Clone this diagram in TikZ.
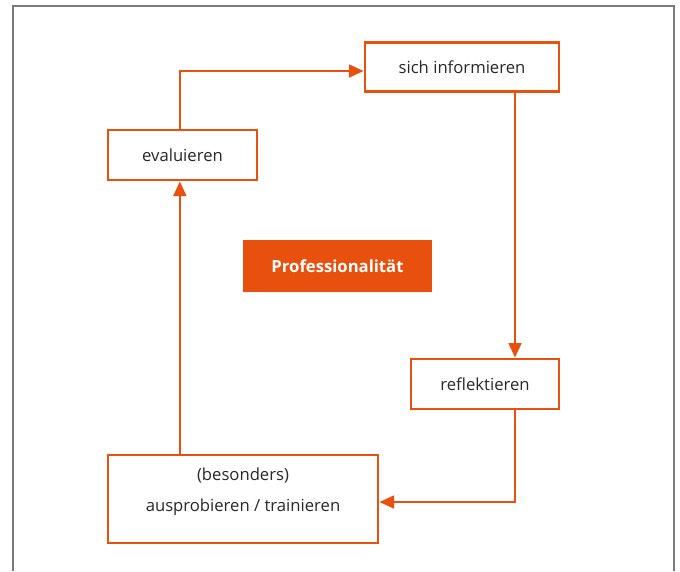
\documentclass[tikz,border=0pt]{standalone}
\usepackage{fontspec}
\setmainfont{Open Sans}
\usetikzlibrary{arrows.meta,calc}

\definecolor{orangeline}{RGB}{232,80,14}
\definecolor{framegray}{RGB}{122,122,122}
\definecolor{textgray}{RGB}{40,40,40}

\tikzset{every picture/.style={line width=0.75pt}}
\tikzset{
  stepbox/.style={draw=orangeline, line width=2pt, fill=white, inner sep=0pt,
    text=textgray, font=\fontsize{12.5}{23}\selectfont},
  corebox/.style={fill=orangeline, inner sep=0pt, text=white,
    font=\fontsize{12.5}{15}\selectfont\bfseries},
  flow/.style={draw=orangeline, line width=2pt,
    -{Triangle[length=11pt,width=9.5pt]}},
}

\begin{document}
\begin{tikzpicture}[x=0.75pt,y=0.75pt,yscale=-1,xscale=1]
\useasboundingbox (0,0) rectangle (680,571);

%Frame (open at the bottom)
\draw [color=framegray, line width=1.5pt] (13,571) -- (13,6) -- (674,6) -- (674,571) ;

% Text Node
\node [stepbox, minimum width=145.5pt, minimum height=36.75pt] (info) at (462,67) {sich informieren};
% Text Node
\node [stepbox, minimum width=111.75pt, minimum height=37.5pt] (eval) at (182.5,155) {evaluieren};
% Text Node
\node [corebox, minimum width=141.75pt, minimum height=39pt] (prof) at (337.5,266) {Professionalität};
% Text Node
\node [stepbox, minimum width=111pt, minimum height=37.5pt] (refl) at (485,384) {reflektieren};
% Text Node
\node [stepbox, minimum width=202.5pt, minimum height=66pt, align=center, text depth=14.5pt] (aus) at (243,499) {(besonders)\\ausprobieren / trainieren};

%Helper for the right-hand vertical
\coordinate (rx) at (515,0);

%Connectors
\draw [flow] ([xshift=-2pt]eval.north) |- ([yshift=3pt]info.west) ;
\draw [flow] (info.south -| rx) -- (refl.north -| rx) ;
\draw [flow] (refl.south -| rx) |- ([yshift=2.25pt]aus.east) ;
\draw [flow] ([xshift=-2pt]aus.north -| eval.south) -- ([xshift=-2pt]eval.south) ;

\end{tikzpicture}
\end{document}
